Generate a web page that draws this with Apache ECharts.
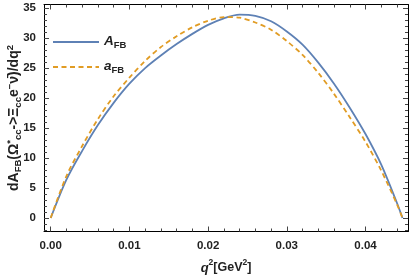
<!DOCTYPE html>
<html><head><meta charset="utf-8">
<script src="https://cdn.jsdelivr.net/npm/echarts@6/dist/echarts.min.js"></script>
<style>html,body{margin:0;padding:0;background:#fff}#c{width:415px;height:276px}</style>
</head><body><div id="c"></div>
<script>
// Data
const q = [0, 0.002, 0.004, 0.006, 0.008, 0.010, 0.012, 0.014, 0.016, 0.018, 0.020, 0.022, 0.024, 0.026, 0.028, 0.030, 0.032, 0.034, 0.036, 0.038, 0.040, 0.042, 0.044, 0.0447];
const A_FB = [0, 6.4, 11.2, 15.5, 19.2, 22.4, 25.0, 27.1, 29.0, 30.7, 32.2, 33.3, 33.9, 33.7, 32.8, 31.1, 28.9, 25.9, 22.4, 18.4, 14.0, 8.9, 2.5, 0];
const a_FB = [0, 7.0, 12.0, 16.5, 20.3, 23.4, 26.2, 28.5, 30.3, 31.8, 32.9, 33.5, 33.4, 32.6, 31.4, 29.5, 27.2, 24.2, 20.7, 16.8, 12.7, 7.9, 2.3, 0];
const xTicks = [0, 0.01, 0.02, 0.03, 0.04];
const xMinor = [0.002, 0.004, 0.006, 0.008, 0.012, 0.014, 0.016, 0.018, 0.022, 0.024, 0.026, 0.028, 0.032, 0.034, 0.036, 0.038, 0.042, 0.044];
const yTicks = [0, 5, 10, 15, 20, 25, 30, 35];
const yMinor = [-2, -1, 1, 2, 3, 4, 6, 7, 8, 9, 11, 12, 13, 14, 16, 17, 18, 19, 21, 22, 23, 24, 26, 27, 28, 29, 31, 32, 33, 34];
const seriesNames = ['A_FB', 'a_FB'];

const X_MIN = -0.00085, X_MAX = 0.0454, Y_MIN = -2.25, Y_MAX = 35.6;
const font = 'Liberation Sans, Arial, sans-serif';
const axisCol = '#000';

function xAx(pos, vals, len, labels, line) {
  return {type: 'value', position: pos, min: X_MIN, max: X_MAX,
    axisLine: {show: line, onZero: false, lineStyle: {color: axisCol, width: 1}},
    axisTick: {show: true, inside: true, length: len, customValues: vals, lineStyle: {color: '#444', width: 1}},
    axisLabel: {show: labels, customValues: vals, formatter: v => v.toFixed(2), color: '#222', fontFamily: font, fontWeight: 'bold', fontSize: 11.5, margin: 8},
    splitLine: {show: false}};
}
function yAx(pos, vals, len, labels, line) {
  return {type: 'value', position: pos, min: Y_MIN, max: Y_MAX,
    axisLine: {show: line, onZero: false, lineStyle: {color: axisCol, width: 1}},
    axisTick: {show: true, inside: true, length: len, customValues: vals, lineStyle: {color: '#444', width: 1}},
    axisLabel: {show: labels, customValues: vals, color: '#222', fontFamily: font, fontWeight: 'bold', fontSize: 11.5, margin: 8},
    splitLine: {show: false}};
}

const xAxes = [xAx('bottom', xTicks, 5, true, true), xAx('bottom', xMinor, 3, false, false),
               xAx('top', xTicks, 5, false, true), xAx('top', xMinor, 3, false, false)];
xAxes[0].name = '{i|q}{sp|2}{b|[GeV}{sp|2}{b|]}';
xAxes[0].nameLocation = 'middle';
xAxes[0].nameGap = 27;
xAxes[0].nameTextStyle = {rich: {
  i: {fontFamily: font, fontStyle: 'italic', fontWeight: 'bold', fontSize: 13, color: '#222', verticalAlign: 'bottom', lineHeight: 16},
  b: {fontFamily: font, fontWeight: 'bold', fontSize: 12.5, color: '#222', verticalAlign: 'bottom', lineHeight: 16},
  sp: {fontFamily: font, fontWeight: 'bold', fontSize: 8.5, color: '#222', verticalAlign: 'top', lineHeight: 9}
}};
const yAxes = [yAx('left', yTicks, 5, true, true), yAx('left', yMinor, 3, false, false),
               yAx('right', yTicks, 5, false, true), yAx('right', yMinor, 3, false, false)];
yAxes[0].name = '{b|dA}{sb|FB}{b|(Ω}{sp|*}{sb|cc}{b|->Ξ}{sb|cc}{b|e}{sp|−}{b|ν̄)/dq}{sp|2}';
yAxes[0].nameLocation = 'middle';
yAxes[0].nameGap = 21;
yAxes[0].nameMoveOverlap = false;
yAxes[0].nameRotate = 90;
yAxes[0].nameTextStyle = {rich: {
  b: {fontFamily: font, fontWeight: 'bold', fontSize: 14, color: '#222', verticalAlign: 'middle', lineHeight: 18},
  sb: {fontFamily: font, fontWeight: 'bold', fontSize: 9.5, color: '#222', verticalAlign: 'bottom', lineHeight: 9},
  sp: {fontFamily: font, fontWeight: 'bold', fontSize: 9.5, color: '#222', verticalAlign: 'top', lineHeight: 9}
}};

const chart = echarts.init(document.getElementById('c'), null, {renderer: 'canvas'});
chart.setOption({
  animation: false,
  backgroundColor: '#fff',
  grid: {left: 44, right: 7, top: 4.5, bottom: 44.5, outerBoundsMode: 'none', containLabel: false},
  xAxis: xAxes,
  yAxis: yAxes,
  legend: {
    orient: 'vertical', left: 47, top: 29, itemWidth: 46, itemHeight: 14, itemGap: 9,
    data: seriesNames,
    itemStyle: {opacity: 0},
    formatter: n => n === 'A_FB' ? '{i|A}{s|FB}' : '{i|a}{s|FB}',
    textStyle: {rich: {
      i: {fontFamily: font, fontStyle: 'italic', fontWeight: 'bold', fontSize: 13.5, color: '#222', verticalAlign: 'top', lineHeight: 16},
      s: {fontFamily: font, fontWeight: 'bold', fontSize: 9.5, color: '#222', verticalAlign: 'bottom', lineHeight: 10}
    }}
  },
  series: [
    {name: seriesNames[0], type: 'line', smooth: 0.3, symbol: 'none', xAxisIndex: 0, yAxisIndex: 0,
     data: q.map((x, i) => [x, A_FB[i]]), lineStyle: {color: '#5E81B5', width: 1.8}, itemStyle: {color: '#5E81B5'}},
    {name: seriesNames[1], type: 'line', smooth: 0.3, symbol: 'none', xAxisIndex: 0, yAxisIndex: 0,
     data: q.map((x, i) => [x, a_FB[i]]), lineStyle: {color: '#E19C24', width: 1.8, type: [5, 3.5]}, itemStyle: {color: '#E19C24'}}
  ]
});
</script></body></html>
